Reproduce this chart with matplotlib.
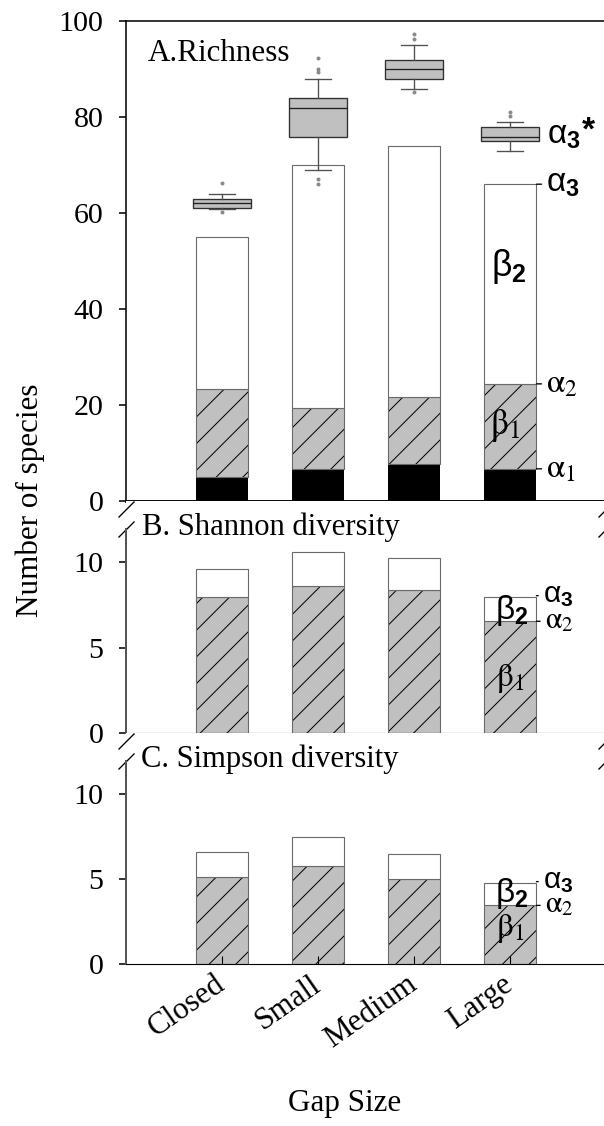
import matplotlib
matplotlib.use("Agg")
import matplotlib.pyplot as plt
import numpy as np

plt.rcParams["font.family"] = ["Liberation Serif", "DejaVu Serif"]
plt.rcParams["mathtext.fontset"] = "custom"
plt.rcParams["mathtext.rm"] = "Liberation Sans"
plt.rcParams["mathtext.it"] = "Liberation Sans"
plt.rcParams["mathtext.bf"] = "Liberation Sans:bold"
plt.rcParams["hatch.linewidth"] = 0.45

###data
gap_sizes = ["Closed", "Small", "Medium", "Large"]

# A. richness: stacked alpha1 / alpha2 / alpha3 (gamma)
rich_alpha1 = [5.0, 6.6, 7.8, 6.7]
rich_alpha2 = [23.4, 19.4, 21.6, 24.4]
rich_alpha3 = [55.0, 70.0, 74.0, 66.0]

# expected alpha3* boxplots
box_med = [62.0, 81.9, 89.9, 75.8]
box_q1 = [61.0, 75.9, 88.0, 74.9]
box_q3 = [62.9, 83.9, 91.9, 77.9]
box_lo = [60.8, 68.9, 85.9, 73.0]
box_hi = [64.0, 88.0, 95.0, 78.9]
box_fliers = [[66.2, 60.2], [89.3, 90.0, 92.2, 67.1, 66.1], [96.3, 97.3, 85.2], [80.3, 81.0]]

# B. Shannon diversity
shan_alpha2 = [8.0, 8.6, 8.4, 6.55]
shan_alpha3 = [9.6, 10.6, 10.25, 7.95]

# C. Simpson diversity
simp_alpha2 = [5.15, 5.75, 5.0, 3.45]
simp_alpha3 = [6.6, 7.5, 6.5, 4.75]

DPI = 160
W, H = 604, 1126
fig = plt.figure(figsize=(W / DPI, H / DPI), dpi=DPI)


def px_box(x0, y0, x1, y1):
    return [x0 / W, 1 - y1 / H, (x1 - x0) / W, (y1 - y0) / H]


ax_a = fig.add_axes(px_box(126, 21, 606, 501))
ax_b = fig.add_axes(px_box(126, 501, 606, 733))
ax_c = fig.add_axes(px_box(126, 733, 606, 964))

x = np.arange(1, len(gap_sizes) + 1)
bw = 0.55
grey = "#c0c0c0"
edge = "#6a6a6a"

###panel A
ax_a.bar(x, rich_alpha1, bw, color="black", lw=0)
b1 = np.subtract(rich_alpha2, rich_alpha1)
ax_a.bar(x, b1, bw, bottom=rich_alpha1, color=grey, edgecolor="black", lw=0, hatch="//")
ax_a.bar(x, b1, bw, bottom=rich_alpha1, fill=False, edgecolor=edge, lw=0.5)
ax_a.bar(x, np.subtract(rich_alpha3, rich_alpha2), bw, bottom=rich_alpha2,
         color="white", edgecolor=edge, lw=0.5)

stats = []
for i in range(len(gap_sizes)):
    stats.append(dict(med=box_med[i], q1=box_q1[i], q3=box_q3[i],
                      whislo=box_lo[i], whishi=box_hi[i], fliers=box_fliers[i]))
ax_a.bxp(stats, positions=x, widths=0.6, capwidths=0.28, patch_artist=True,
         manage_ticks=False,
         boxprops=dict(facecolor=grey, edgecolor="#303030", lw=0.6),
         medianprops=dict(color="#202020", lw=0.6),
         whiskerprops=dict(color="#505050", lw=0.6),
         capprops=dict(color="#505050", lw=0.6),
         flierprops=dict(marker="o", markersize=1.8, markerfacecolor="#8a8a8a",
                         markeredgecolor="none"))

ax_a.set_xlim(0, 5)
ax_a.set_ylim(0, 100)
ax_a.set_yticks(range(0, 101, 20))
ax_a.spines["right"].set_visible(False)
ax_a.spines["top"].set_linewidth(0.7)
ax_a.spines["left"].set_linewidth(0.7)
ax_a.spines["bottom"].set_linewidth(1.3)
ax_a.tick_params(axis="x", bottom=False, labelbottom=False)
ax_a.text(0.046, 0.933, "A.Richness", transform=ax_a.transAxes, fontsize=14, va="center")

###panels B and C
for ax, a2, a3 in [(ax_b, shan_alpha2, shan_alpha3), (ax_c, simp_alpha2, simp_alpha3)]:
    ax.bar(x, a2, bw, color=grey, edgecolor="black", lw=0, hatch="//")
    ax.bar(x, a2, bw, fill=False, edgecolor=edge, lw=0.5)
    ax.bar(x, np.subtract(a3, a2), bw, bottom=a2, color="white", edgecolor=edge, lw=0.5)
    ax.set_xlim(0, 5)
    ax.set_ylim(0, 13.6)
    ax.set_yticks([0, 5, 10])
    ax.spines["top"].set_visible(False)
    ax.spines["right"].set_visible(False)
    ax.spines["left"].set_bounds(0, 11.95)
    ax.spines["left"].set_color("#555555")
    ax.spines["left"].set_linewidth(0.9)
    ax.spines["bottom"].set_linewidth(0.5)
    # axis break marks
    for lvl in (13.15, 11.95):
        ax.plot([0, 1], [lvl, lvl], transform=ax.get_yaxis_transform(),
                marker=[(-1, -1), (1, 1)], markersize=7.2, linestyle="none",
                color="k", mec="k", mew=0.6, clip_on=False)

ax_b.tick_params(axis="x", bottom=False, labelbottom=False)
ax_b.text(0.034, 0.888, "B. Shannon diversity", transform=ax_b.transAxes, fontsize=13.8, va="center")
ax_c.text(0.031, 0.888, "C. Simpson diversity", transform=ax_c.transAxes, fontsize=13.8, va="center")

for ax in (ax_a, ax_b, ax_c):
    ax.tick_params(axis="y", direction="out", length=3.2, width=0.7, labelsize=13.5, pad=7)

ax_c.set_xticks(x, gap_sizes, rotation=35, ha="right", va="center", rotation_mode="anchor")
ax_c.tick_params(axis="x", direction="in", length=3.6, width=0.5, labelsize=14, pad=8)

###labels at the Large bar
xr = 4 + bw / 2
sans = dict(fontsize=15, va="center", ha="left", math_fontfamily="custom")
serif = dict(fontsize=15, va="center", ha="left", math_fontfamily="stix")
sans_s = dict(sans, fontsize=13.5)
serif_s = dict(serif, fontsize=13.5)
dash = dict(arrowstyle="-", lw=0.6, color="black", shrinkA=0, shrinkB=0)


def side_label(ax, y, s, style, xt=4.375):
    ax.annotate(s, xy=(xr, y), xytext=(xt, y), arrowprops=dash, **style)


ax_a.text(4.385, box_med[3] + 0.3, r"$\alpha_\mathbf{3}$", **sans)
ax_a.text(4.75, box_med[3] + 1.2, "*", fontsize=15, va="center", family="Liberation Sans", weight="bold")
side_label(ax_a, rich_alpha3[3], r"$\alpha_\mathbf{3}$", sans)
side_label(ax_a, rich_alpha2[3], r"$\mathrm{\alpha}_\mathrm{2}$", serif)
side_label(ax_a, rich_alpha1[3], r"$\mathrm{\alpha}_\mathrm{1}$", serif)
ax_a.text(3.99, 48.8, r"$\beta_\mathbf{2}$", fontsize=16, ha="center", va="center", math_fontfamily="custom")
ax_a.text(3.95, 15.7, r"$\mathrm{\beta}_\mathrm{1}$", fontsize=16, ha="center", va="center", math_fontfamily="stix")

for ax, a2, a3, yb2, yb1 in [(ax_b, shan_alpha2, shan_alpha3, 7.2, 3.2),
                             (ax_c, simp_alpha2, simp_alpha3, 4.15, 2.1)]:
    side_label(ax, a3[3] + 0.1, r"$\alpha_\mathbf{3}$", sans_s, xt=4.34)
    side_label(ax, a2[3], r"$\mathrm{\alpha}_\mathrm{2}$", serif_s, xt=4.36)
    ax.text(4.02, yb2, r"$\beta_\mathbf{2}$", fontsize=15, ha="center", va="center", math_fontfamily="custom")
    ax.text(4.0, yb1, r"$\mathrm{\beta}_\mathrm{1}$", fontsize=15, ha="center", va="center", math_fontfamily="stix")

fig.text(30 / W, 1 - 500 / H, "Number of species", rotation=90, fontsize=14, ha="center", va="center")
fig.text(345 / W, 1 - 1103 / H, "Gap Size", fontsize=14, ha="center", va="center")

fig.savefig("out.png", dpi=DPI)
